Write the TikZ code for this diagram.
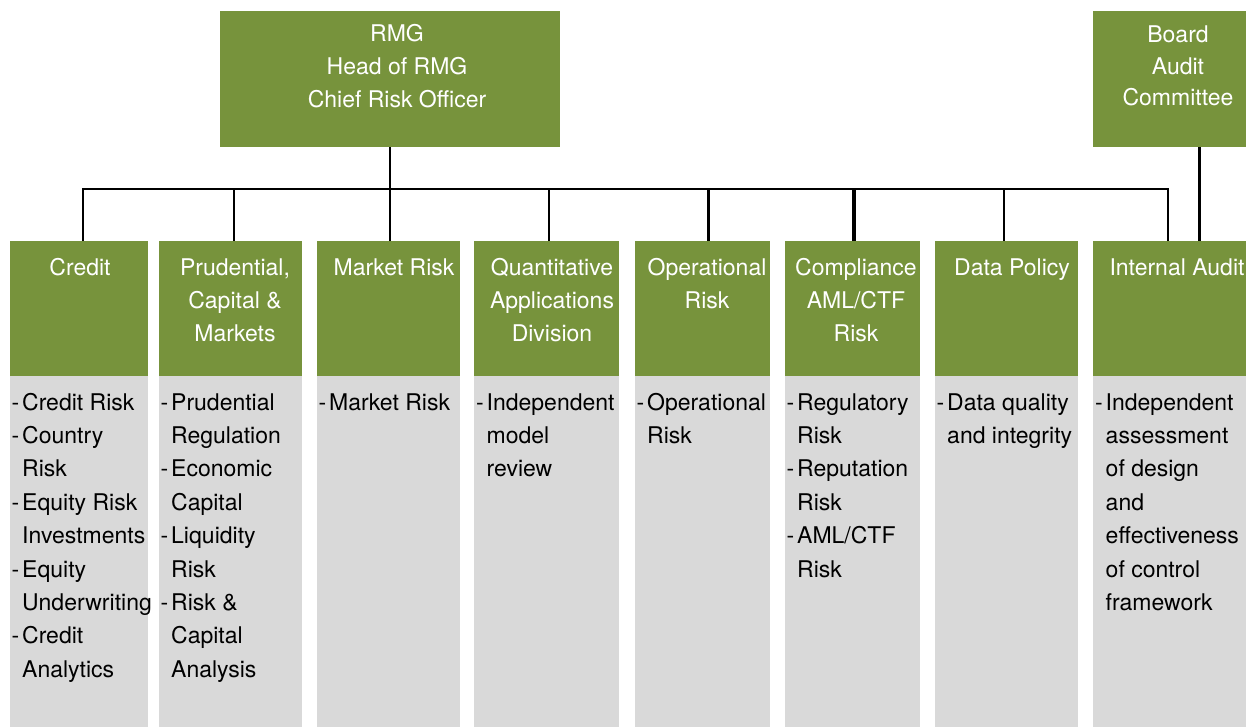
\documentclass[tikz,border=0pt]{standalone}
\usepackage{fontspec}
\setmainfont{TeX Gyre Heros}
\definecolor{rmggreen}{HTML}{77933C}
\definecolor{panelgrey}{HTML}{D9D9D9}
% dash of a list item, and the indent of its following lines
\newcommand\itm{\makebox[10.5pt][l]{-}}
\newcommand\ind{\hspace*{10.5pt}}
\newcommand\leftlines[1]{\begin{tabular}[t]{@{}l@{}}#1\end{tabular}}
\newcommand\midlines[1]{\begin{tabular}[t]{@{}c@{}}#1\end{tabular}}
\tikzset{
  greenbox/.style={fill=rmggreen, draw=none, inner sep=0pt, anchor=north west},
  greybox/.style={fill=panelgrey, draw=none, inner sep=0pt, anchor=north west},
  headtext/.style={text=white, inner sep=0pt, anchor=base, font=\fontsize{23}{33.4}\selectfont},
  bodytext/.style={text=black, inner sep=0pt, anchor=base west, font=\fontsize{23}{33.4}\selectfont},
  link/.style={draw=black, line width=2.2pt},
}
\begin{document}
\begin{tikzpicture}[x=1pt,y=-1pt]
\useasboundingbox (0,0) rectangle (1246,727);

% top boxes
\node[greenbox, minimum width=340, minimum height=136] (rmg) at (220,11) {};
\node[headtext] (rmg-t) at (397,42) {\fontsize{23}{33}\selectfont\midlines{RMG\\Head of RMG\\Chief Risk Officer}};
\node[greenbox, minimum width=153, minimum height=136] (bac) at (1093,11) {};
\node[headtext] (bac-t) at (1178,43) {\fontsize{23}{31.5}\selectfont\midlines{Board\\Audit\\Committee}};

% division headers
\node[greenbox, minimum width=138, minimum height=135] (cr) at (10,241) {};
\node[greenbox, minimum width=143, minimum height=135] (pcm) at (159,241) {};
\node[greenbox, minimum width=143, minimum height=135] (mr) at (317,241) {};
\node[greenbox, minimum width=145, minimum height=135] (qad) at (474,241) {};
\node[greenbox, minimum width=135, minimum height=135] (opr) at (635,241) {};
\node[greenbox, minimum width=135, minimum height=135] (cmp) at (785,241) {};
\node[greenbox, minimum width=143, minimum height=135] (dp) at (935,241) {};
\node[greenbox, minimum width=153, minimum height=135] (ia) at (1093,241) {};

% remit panels
\node[greybox, minimum width=138, minimum height=351] (cr-p) at (10,376) {};
\node[greybox, minimum width=143, minimum height=351] (pcm-p) at (159,376) {};
\node[greybox, minimum width=143, minimum height=351] (mr-p) at (317,376) {};
\node[greybox, minimum width=145, minimum height=351] (qad-p) at (474,376) {};
\node[greybox, minimum width=135, minimum height=351] (opr-p) at (635,376) {};
\node[greybox, minimum width=135, minimum height=351] (cmp-p) at (785,376) {};
\node[greybox, minimum width=143, minimum height=351] (dp-p) at (935,376) {};
\node[greybox, minimum width=153, minimum height=351] (ia-p) at (1093,376) {};

% header titles
\node[headtext] (cr-t) at (80,275) {\midlines{Credit}};
\node[headtext] (pcm-t) at (235,275) {\midlines{Prudential,\\Capital \&\\Markets}};
\node[headtext] (mr-t) at (394,275) {\midlines{Market Risk}};
\node[headtext] (qad-t) at (552,275) {\midlines{Quantitative\\Applications\\Division}};
\node[headtext] (opr-t) at (707,275) {\midlines{Operational\\Risk}};
\node[headtext] (cmp-t) at (856,275) {\midlines{Compliance\\AML/CTF\\Risk}};
\node[headtext] (dp-t) at (1012,275) {\midlines{Data Policy}};
\node[headtext] (ia-t) at (1177,275) {\midlines{Internal Audit}};

% remit lists
\node[bodytext] (cr-l) at (11.5,410) {\leftlines{\itm Credit Risk\\\itm Country\\\ind Risk\\\itm Equity Risk\\\ind Investments\\\itm Equity\\\ind Underwriting\\\itm Credit\\\ind Analytics}};
\node[bodytext] (pcm-l) at (160.5,410) {\leftlines{\itm Prudential\\\ind Regulation\\\itm Economic\\\ind Capital\\\itm Liquidity\\\ind Risk\\\itm Risk \&\\\ind Capital\\\ind Analysis}};
\node[bodytext] (mr-l) at (318.5,410) {\leftlines{\itm Market Risk}};
\node[bodytext] (qad-l) at (476,410) {\leftlines{\itm Independent\\\ind model\\\ind review}};
\node[bodytext] (opr-l) at (636.5,410) {\leftlines{\itm Operational\\\ind Risk}};
\node[bodytext] (cmp-l) at (786.5,410) {\leftlines{\itm Regulatory\\\ind Risk\\\itm Reputation\\\ind Risk\\\itm AML/CTF\\\ind Risk}};
\node[bodytext] (dp-l) at (936.5,410) {\leftlines{\itm Data quality\\\ind and integrity}};
\node[bodytext] (ia-l) at (1095,410) {\leftlines{\itm Independent\\\ind assessment\\\ind of design\\\ind and\\\ind effectiveness\\\ind of control\\\ind framework}};

% reporting lines
\coordinate (busL) at (83,189);
\coordinate (busR) at (1168,189);
\draw[link, line width=2.5pt, line cap=rect] (busL) -- (busR);
\draw[link, line width=2.5pt] (rmg.south) -- ([xshift=0pt]rmg.south |- busL);
\draw[link, line width=2.5pt] ([xshift=4pt]cr.north) -- ([xshift=4pt]cr.north |- busL);
\draw[link, line width=2pt] ([xshift=3.5pt]pcm.north) -- ([xshift=3.5pt]pcm.north |- busL);
\draw[link] ([xshift=1.5pt]mr.north) -- ([xshift=1.5pt]mr.north |- busL);
\draw[link, line width=2pt] ([xshift=2.5pt]qad.north) -- ([xshift=2.5pt]qad.north |- busL);
\draw[link, line width=3pt] ([xshift=5.5pt]opr.north) -- ([xshift=5.5pt]opr.north |- busL);
\draw[link, line width=3.5pt] ([xshift=1.5pt]cmp.north) -- ([xshift=1.5pt]cmp.north |- busL);
\draw[link, line width=2pt] ([xshift=-2.5pt]dp.north) -- ([xshift=-2.5pt]dp.north |- busL);
\draw[link, line width=2pt] ([xshift=-1.5pt]ia.north) -- ([xshift=-1.5pt]ia.north |- busL);
\draw[link, line width=3.5pt] ([xshift=30pt]bac.south) -- ([xshift=30pt]ia.north);
\end{tikzpicture}
\end{document}
